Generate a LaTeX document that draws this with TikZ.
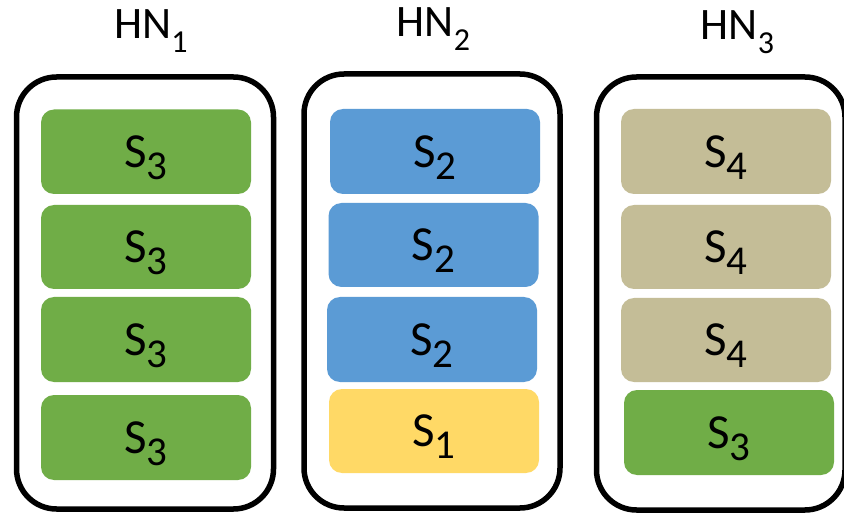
\documentclass[tikz,border=0pt]{standalone}
\usepackage{fontspec}
\setmainfont{Carlito}
\definecolor{slotgreen}{HTML}{70AD47}
\definecolor{slotblue}{HTML}{5B9BD5}
\definecolor{slotyellow}{HTML}{FFD966}
\definecolor{slottan}{HTML}{C4BD97}
% service label: S with a lowered index
\newcommand{\svc}[1]{\fontsize{49}{52}\selectfont S\smash{\raisebox{-12pt}{\fontsize{41}{44}\selectfont #1}}}
% host node title: HN with a lowered index
\newcommand{\hn}[1]{\fontsize{45}{50}\selectfont HN\raisebox{-14pt}{\fontsize{32}{36}\selectfont #1}}
\tikzset{
  hostbox/.style={draw=black, line width=5.5pt, rounded corners=40pt, inner sep=0pt, outer sep=0pt},
  slotbox/.style={rounded corners=13pt, inner sep=0pt, outer sep=0pt, text=black},
  hosttitle/.style={anchor=base, inner sep=0pt}
}
\begin{document}
\begin{tikzpicture}[x=1pt,y=-1pt]
\useasboundingbox (0,0) rectangle (844,513);
\fill[white] (0,0) rectangle (844,513);

% host frames
\node[hostbox, minimum width=257pt, minimum height=432pt] (hn1) at (145,293) {};
\node[hostbox, minimum width=256pt, minimum height=434pt] (hn2) at (432,291) {};
\node[hostbox, minimum width=248.5pt, minimum height=433pt] (hn3) at (720.75,293.5) {};

% titles
\node[hosttitle] (t1) at (151,38.5) {\hn{1}};
\node[hosttitle] (t2) at (433.5,37) {\hn{2}};
\node[hosttitle] (t3) at (737.5,40) {\hn{3}};

% slots of HN1
\node[slotbox, fill=slotgreen, minimum width=210pt, minimum height=84.5pt] (a1) at (146,151.75) {\svc{3}};
\node[slotbox, fill=slotgreen, minimum width=210pt, minimum height=84pt] (a2) at (146,247) {\svc{3}};
\node[slotbox, fill=slotgreen, minimum width=210pt, minimum height=85pt] (a3) at (146,339.5) {\svc{3}};
\node[slotbox, fill=slotgreen, minimum width=210pt, minimum height=85pt] (a4) at (146,437.5) {\svc{3}};

% slots of HN2
\node[slotbox, fill=slotblue, minimum width=210pt, minimum height=85pt] (b1) at (435,151.5) {\svc{2}};
\node[slotbox, fill=slotblue, minimum width=210pt, minimum height=84pt] (b2) at (433.5,245) {\svc{2}};
\node[slotbox, fill=slotblue, minimum width=210pt, minimum height=85pt] (b3) at (432,339.5) {\svc{2}};
\node[slotbox, fill=slotyellow, minimum width=210pt, minimum height=84pt] (b4) at (434,431) {\svc{1}};

% slots of HN3
\node[slotbox, fill=slottan, minimum width=210pt, minimum height=85pt] (c1) at (726,151.5) {\svc{4}};
\node[slotbox, fill=slottan, minimum width=210pt, minimum height=84pt] (c2) at (726,247) {\svc{4}};
\node[slotbox, fill=slottan, minimum width=210pt, minimum height=84pt] (c3) at (726,340) {\svc{4}};
\node[slotbox, fill=slotgreen, minimum width=210pt, minimum height=85pt] (c4) at (729,432.5) {\svc{3}};
\end{tikzpicture}
\end{document}
